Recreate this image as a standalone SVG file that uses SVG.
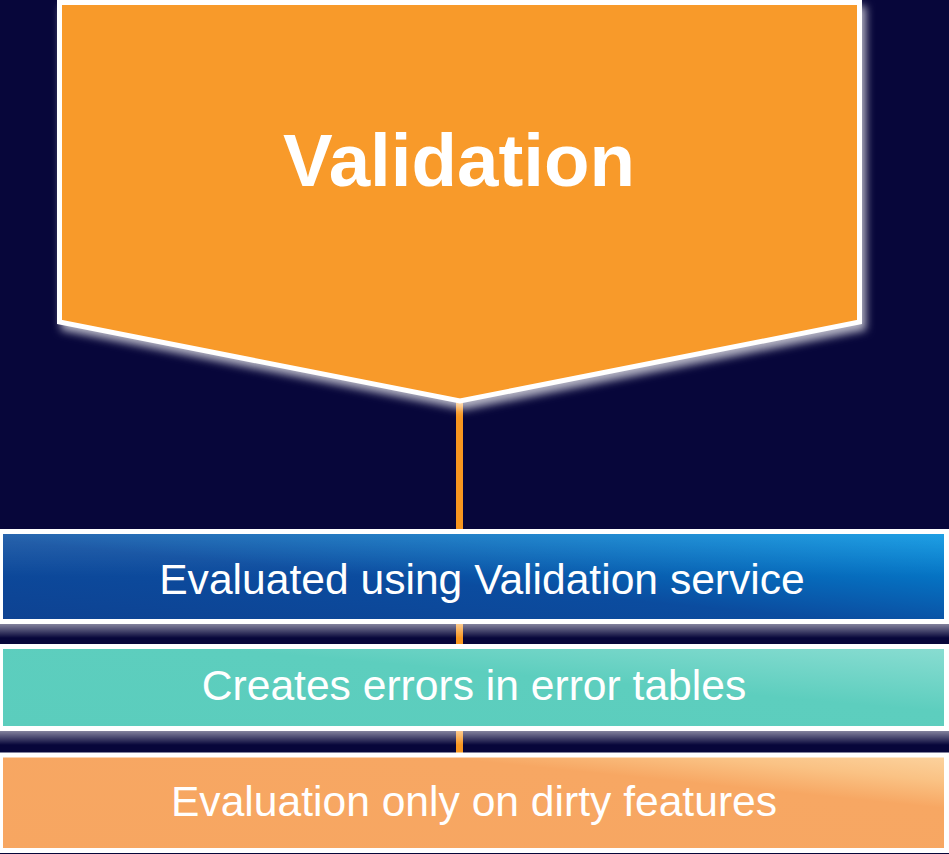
<svg xmlns="http://www.w3.org/2000/svg" width="949" height="854" viewBox="0 0 949 854">
  <style>
    .lbl { font-family: "Liberation Sans", Arial, sans-serif; fill: #ffffff; text-anchor: middle; }
    .big { font-size: 74.5px; font-weight: bold; }
    .bar-text { font-size: 42.6px; }
    .bar { stroke: #ffffff; stroke-width: 5; }
  </style>
  <defs>
    <filter id="glow" x="-10%" y="-10%" width="125%" height="130%">
      <feGaussianBlur in="SourceAlpha" stdDeviation="4" result="b"/>
      <feOffset in="b" dx="4" dy="6" result="o"/>
      <feFlood flood-color="#ffffff" flood-opacity="0.7"/>
      <feComposite in2="o" operator="in" result="s"/>
      <feMerge>
        <feMergeNode in="s"/>
        <feMergeNode in="SourceGraphic"/>
      </feMerge>
    </filter>
    <linearGradient id="gBlue" x1="0" y1="1" x2="1" y2="0">
      <stop offset="0" stop-color="#0E4292"/>
      <stop offset="0.45" stop-color="#0B4C9F"/>
      <stop offset="1" stop-color="#0094E2"/>
    </linearGradient>
    <linearGradient id="gBlueV" x1="0" y1="0" x2="0" y2="1">
      <stop offset="0" stop-color="#ffffff" stop-opacity="0.12"/>
      <stop offset="0.5" stop-color="#ffffff" stop-opacity="0"/>
    </linearGradient>
    <linearGradient id="gTeal" x1="0" y1="1" x2="1" y2="0">
      <stop offset="0" stop-color="#5BCDBD"/>
      <stop offset="0.6" stop-color="#5DCEBE"/>
      <stop offset="1" stop-color="#8ADDD2"/>
    </linearGradient>
    <linearGradient id="gOrange" x1="0" y1="1" x2="1" y2="0">
      <stop offset="0" stop-color="#F7A661"/>
      <stop offset="0.72" stop-color="#F7A763"/>
      <stop offset="0.86" stop-color="#FAC284"/>
      <stop offset="1" stop-color="#FCD39F"/>
    </linearGradient>
    <linearGradient id="gShadow" x1="0" y1="0" x2="0" y2="1">
      <stop offset="0" stop-color="#ffffff" stop-opacity="0.5"/>
      <stop offset="0.7" stop-color="#ffffff" stop-opacity="0"/>
    </linearGradient>
  </defs>

  <rect x="0" y="0" width="949" height="854" fill="#07063A"/>

  <g id="connectors">
    <line x1="459.5" y1="400" x2="459.5" y2="757" stroke="#F7961F" stroke-width="7"/>
  </g>

  <g id="validation">
    <polygon points="59.5,2.5 859.5,2.5 859.5,322 460,401 59.5,322" fill="#F89A29" stroke="#ffffff" stroke-width="5" stroke-linejoin="miter" filter="url(#glow)"/>
    <text class="lbl big" x="459" y="186">Validation</text>
  </g>

  <g id="bar1">
    <rect class="bar" x="0.5" y="531.5" width="946" height="90" fill="url(#gBlue)"/>
    <rect x="3" y="534" width="941" height="85" fill="url(#gBlueV)"/>
    <rect x="0" y="624" width="949" height="20" fill="url(#gShadow)"/>
    <text class="lbl bar-text" x="482" y="594">Evaluated using Validation service</text>
  </g>

  <g id="bar2">
    <rect class="bar" x="0.5" y="646.5" width="946" height="82" fill="url(#gTeal)"/>
    <rect x="0" y="731" width="949" height="20" fill="url(#gShadow)"/>
    <text class="lbl bar-text" x="474" y="700">Creates errors in error tables</text>
  </g>

  <g id="bar3">
    <rect class="bar" x="0.5" y="755" width="946" height="95.5" fill="url(#gOrange)" stroke-width="4"/>
    <text class="lbl bar-text" x="474" y="816">Evaluation only on dirty features</text>
  </g>
</svg>
